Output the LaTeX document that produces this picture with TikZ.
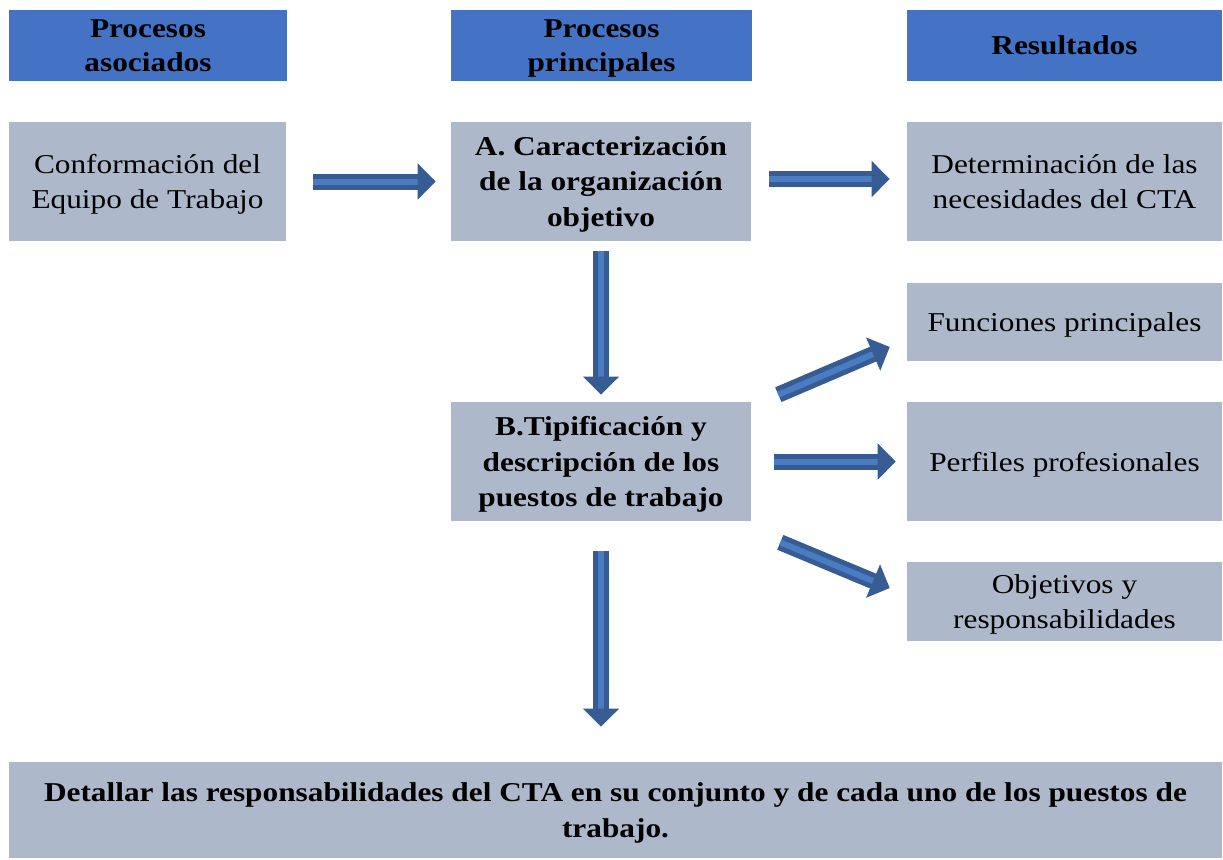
\documentclass[tikz,border=0pt]{standalone}
\usepackage{fontspec}
\setmainfont{Liberation Serif}[FakeStretch=1.15]
\usetikzlibrary{arrows.meta}

\definecolor{headblue}{HTML}{4472C4}
\definecolor{boxgray}{HTML}{ADB9CA}
\definecolor{arrowedge}{HTML}{375C94}
\definecolor{arrowfill}{HTML}{4A7CC2}

\begin{document}
\begin{tikzpicture}[
    x=0.02cm,y=-0.02cm,
    box/.style={fill=boxgray,inner sep=0pt,align=center,text depth=-0.16cm,
        font={\fontsize{15.5pt}{20pt}\selectfont}},
    boldbox/.style={box,font={\fontsize{15.5pt}{20pt}\selectfont\bfseries}},
    header/.style={box,fill=headblue,minimum height=1.42cm,
        font={\fontsize{15.5pt}{19.5pt}\selectfont\bfseries}},
    blockarrow/.style={
        draw=arrowedge,line width=0.1cm,
        double=arrowfill,double distance=0.12cm,
        -{Triangle[width=0.72cm,length=0.36cm,line width=0.5pt]}},
    ]
    \useasboundingbox (0,0) rectangle (1223,859);

    % Column heads
    \node[header,minimum width=5.56cm] (hasoc) at (148,45.5) {Procesos\\asociados};
    \node[header,minimum width=6.02cm] (hprin) at (601.5,45.5) {Procesos\\principales};
    \node[header,minimum width=6.3cm] (hres) at (1064.5,45.5) {Resultados};

    % First row
    \node[box,minimum width=5.54cm,minimum height=2.38cm] (conf) at (147.5,181.5)
        {Conformación del\\Equipo de Trabajo};
    \node[boldbox,minimum width=6cm,minimum height=2.38cm]
        (carac) at (601,181.5) {A. Caracterización\\de la organización\\objetivo};
    \node[box,minimum width=6.3cm,minimum height=2.38cm] (neces) at (1064.5,181.5)
        {Determinación de las\\necesidades del CTA};

    % Second block
    \node[box,minimum width=6.3cm,minimum height=1.56cm] (func) at (1064.5,322)
        {Funciones principales};
    \node[boldbox,minimum width=6cm,minimum height=2.38cm]
        (tipif) at (601,461.5) {B.Tipificación y\\descripción de los\\puestos de trabajo};
    \node[box,minimum width=6.3cm,minimum height=2.38cm] (perf) at (1064.5,461.5)
        {Perfiles profesionales};
    \node[box,minimum width=6.3cm,minimum height=1.58cm] (objet) at (1064.5,601.5)
        {Objetivos y\\responsabilidades};

    % Bottom line
    \node[boldbox,minimum width=24.26cm,minimum height=1.92cm]
        (detal) at (615.5,810) {Detallar las responsabilidades del CTA en su conjunto y de cada uno de los puestos de\\trabajo.};

    % Arrows
    \draw[blockarrow,shorten <=0.54cm,shorten >=0.3cm] (conf.east) -- (carac.west);
    \draw[blockarrow,shorten <=0.36cm,shorten >=0.34cm] ([yshift=0.05cm]carac.east) -- ([yshift=0.05cm]neces.west);
    \draw[blockarrow,shorten <=0.2cm,shorten >=0.14cm] (carac.south) -- (tipif.north);
    \draw[blockarrow] ([xshift=0.54cm,yshift=0.14cm]tipif.north east) -- ([xshift=-0.34cm,yshift=-0.5cm]func.west);
    \draw[blockarrow,shorten <=0.46cm,shorten >=0.22cm] (tipif.east) -- (perf.west);
    \draw[blockarrow] ([xshift=0.58cm,yshift=-0.42cm]tipif.south east) -- ([xshift=-0.34cm,yshift=0.27cm]objet.west);
    \draw[blockarrow,shorten <=0.6cm,shorten >=0.7cm] (tipif.south) -- (tipif.south |- detal.north);
\end{tikzpicture}
\end{document}
